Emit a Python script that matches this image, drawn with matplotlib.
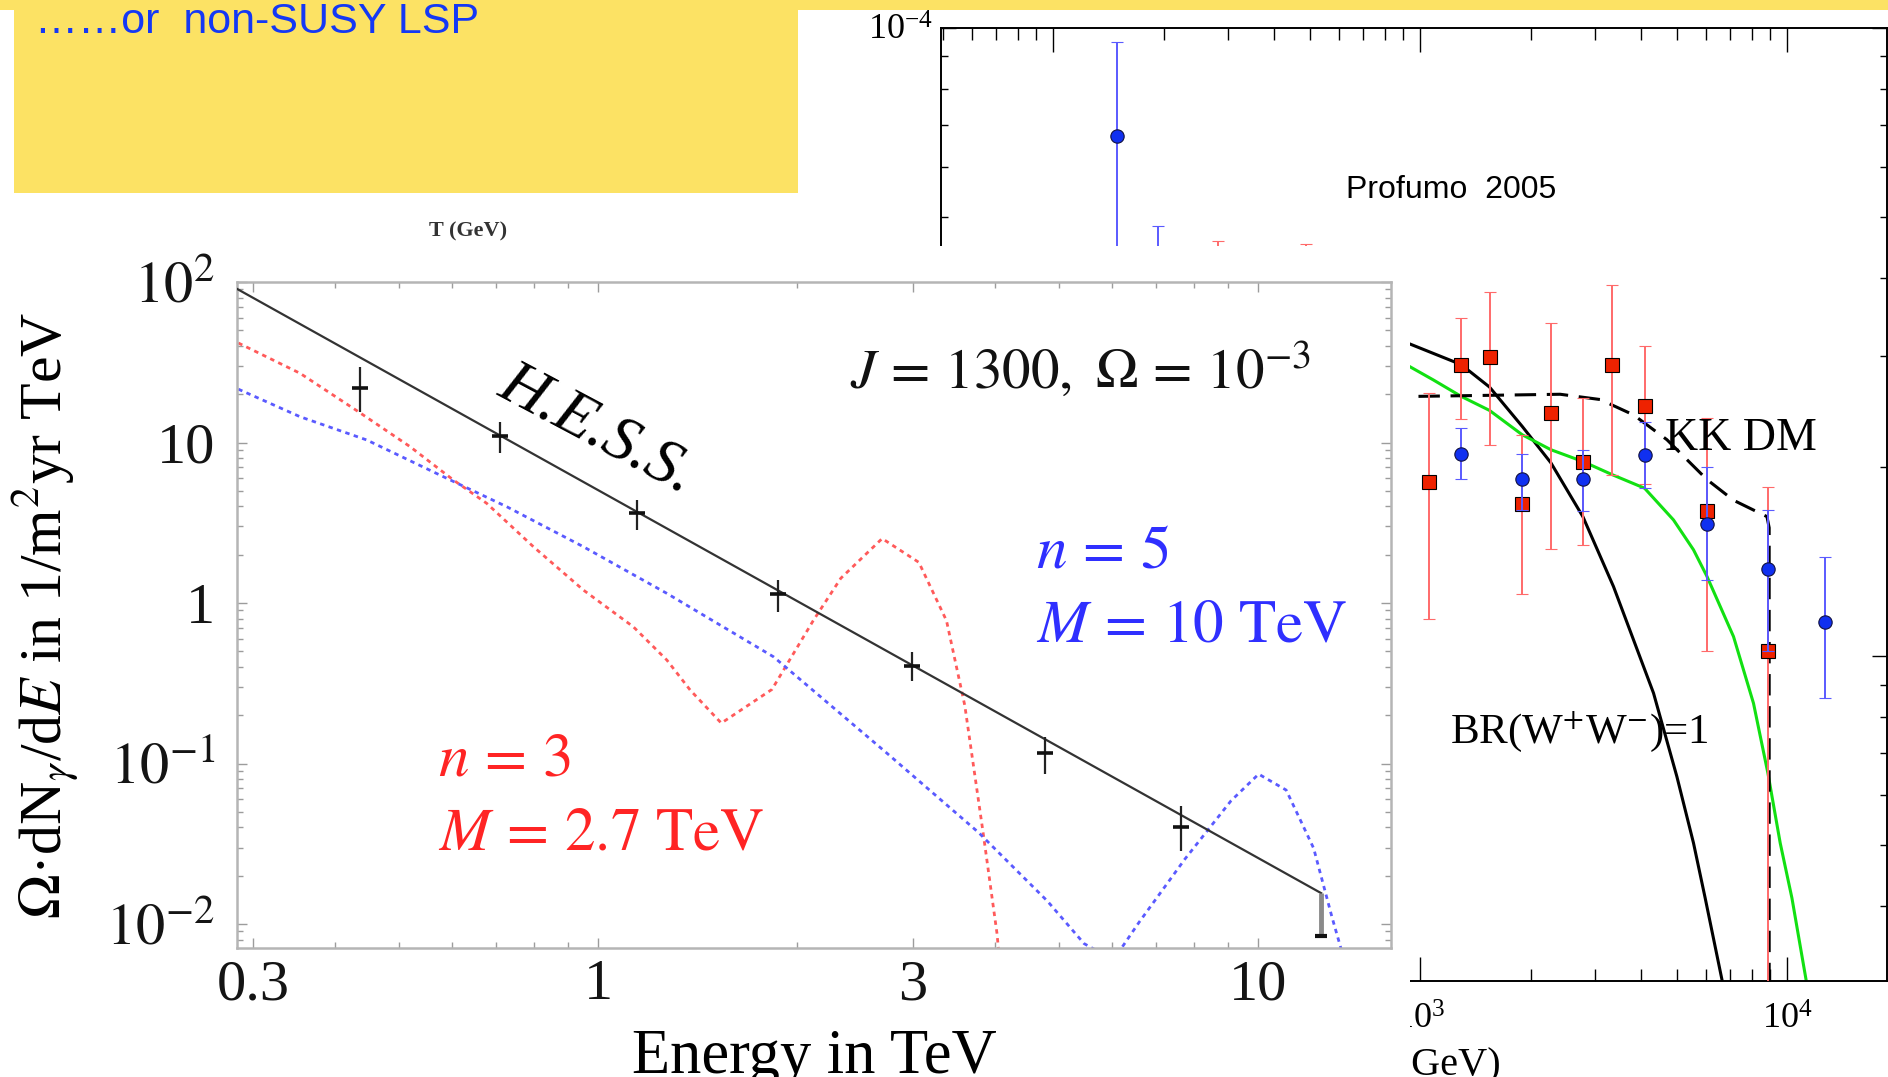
"""Slide collage: H.E.S.S. gamma-ray spectrum laid over the Profumo 2005 KK dark-matter panel."""
import matplotlib

matplotlib.use("Agg")

import matplotlib.pyplot as plt  # noqa: E402
from matplotlib.patches import Rectangle  # noqa: E402
from matplotlib.ticker import (  # noqa: E402
    FixedFormatter,
    FixedLocator,
    LogLocator,
    NullFormatter,
)

W, H = 1888, 1077
YELLOW = "#fce264"

# ---- H.E.S.S. panel (energy in TeV, flux in 1/m^2 yr TeV) ----
HESS_FIT_E = [0.284, 12.46]
HESS_FIT_F = [90.4, 0.0156]

HESS_E = [0.435, 0.710, 1.144, 1.876, 2.99, 4.76, 7.63]
HESS_F = [21.8, 10.98, 3.65, 1.138, 0.407, 0.1164, 0.0402]
HESS_F_LO = [15.6, 8.56, 2.85, 0.882, 0.325, 0.0861, 0.0285]
HESS_F_HI = [29.7, 13.5, 4.38, 1.39, 0.493, 0.146, 0.0543]

HESS_LAST_E = [12.45]
HESS_LAST_F = [0.00848]
HESS_LAST_HI = [0.0156]

# n = 3, M = 2.7 TeV
N3_E = [0.285, 0.3535, 0.4333, 0.519, 0.6036, 0.678, 0.798, 0.950, 1.131, 1.271,
        1.379, 1.537, 1.834, 2.118, 2.332, 2.694, 3.062, 3.372, 3.594, 3.831,
        4.021, 4.065]
N3_F = [41.7, 27.0, 15.56, 9.42, 5.84, 4.18, 2.243, 1.205, 0.711, 0.4416,
        0.287, 0.1787, 0.2897, 0.7768, 1.427, 2.523, 1.793, 0.7768, 0.2305, 0.03726,
        0.00879, 0.0055]

# n = 5, M = 10 TeV
N5_E = [0.285, 0.3535, 0.4462, 0.5831, 0.7273, 0.950, 1.271, 1.844, 2.737, 3.77,
        4.796, 5.45, 5.865, 6.196, 6.6, 7.75, 9.10, 10.02, 11.03, 12.14,
        12.94, 13.36, 13.5]
N5_F = [21.5, 14.48, 10.37, 6.12, 3.98, 2.243, 1.149, 0.4628, 0.1164, 0.03726,
        0.0139, 0.00756, 0.0064, 0.0070, 0.01025, 0.02548, 0.0587, 0.086, 0.0684, 0.02967,
        0.01107, 0.0070, 0.006]

HESS_XTICKS = [0.3, 1, 3, 10]
HESS_XTICKLABELS = ["0.3", "1", "3", "10"]
HESS_YTICKS = [0.01, 0.1, 1, 10, 100]
HESS_YTICKLABELS = [r"$10^{-2}$", r"$10^{-1}$", "1", "10", r"$10^{2}$"]

# ---- Profumo 2005 panel (GeV, flux) ----
RED_E = [281.6, 489, 1058, 1293, 1545, 1897, 2271, 2775, 3342, 4085, 6040, 8855]
RED_F = [3.2e-5, 3.2e-5, 1.89e-5, 2.91e-5, 2.99e-5, 1.746e-5, 2.434e-5, 2.04e-5,
         2.91e-5, 2.50e-5, 1.70e-5, 1.02e-5]
RED_HI = [4.58e-5, 4.53e-5, 2.62e-5, 3.45e-5, 3.80e-5, 2.25e-5, 3.39e-5, 2.57e-5,
          3.90e-5, 3.11e-5, 2.39e-5, 1.86e-5]
RED_LO = [2.2e-5, 2.2e-5, 1.146e-5, 2.38e-5, 2.17e-5, 1.256e-5, 1.479e-5, 1.50e-5,
          1.94e-5, 1.88e-5, 1.02e-5, 1.0e-6]

BLUE_E = [149.4, 193, 1293, 1897, 2775, 4085, 6040, 8855, 12690]
BLUE_F = [6.72e-5, 3.2e-5, 2.10e-5, 1.91e-5, 1.91e-5, 2.09e-5, 1.62e-5, 1.375e-5, 1.135e-5]
BLUE_HI = [9.50e-5, 4.84e-5, 2.31e-5, 2.10e-5, 2.13e-5, 2.36e-5, 2.00e-5, 1.71e-5, 1.437e-5]
BLUE_LO = [3.5e-5, 2.2e-5, 1.91e-5, 1.71e-5, 1.70e-5, 1.85e-5, 1.32e-5, 1.02e-5, 8.57e-6]

WW_E = [935, 1293, 1545, 1897, 2271, 2775, 3363, 4323, 5005, 5555, 5977, 6652, 6800]
WW_F = [3.14e-5, 2.91e-5, 2.68e-5, 2.32e-5, 2.03e-5, 1.667e-5, 1.29e-5, 8.73e-6,
        6.43e-6, 5.04e-6, 4.12e-6, 3.04e-6, 2.8e-6]

GREEN_E = [935, 1087, 1293, 1545, 1897, 2271, 2775, 3363, 4086, 4899, 5555, 6041,
           7140, 8094, 8859, 9570, 10300, 11270]
GREEN_F = [2.89e-5, 2.75e-5, 2.59e-5, 2.46e-5, 2.25e-5, 2.13e-5, 2.04e-5, 1.94e-5,
           1.85e-5, 1.647e-5, 1.476e-5, 1.34e-5, 1.074e-5, 8.41e-6, 6.51e-6, 5.04e-6,
           4.12e-6, 3.04e-6]

KK_E = [989.5, 1551, 2407, 3094, 3813, 4700, 6041, 7140, 8805, 8930, 8930]
KK_F = [2.59e-5, 2.60e-5, 2.61e-5, 2.56e-5, 2.42e-5, 2.21e-5, 1.91e-5, 1.77e-5,
        1.667e-5, 1.6e-5, 2.0e-6]


def box(left, top, right, bottom):
    """Pixel box of the 1888x1077 slide -> add_axes rectangle."""
    return [left / W, 1 - bottom / H, (right - left) / W, (bottom - top) / H]


def fx(px):
    return px / W


def fy(py):
    return 1 - py / H


plt.rcParams["font.family"] = ["Liberation Serif", "DejaVu Serif"]
plt.rcParams["mathtext.fontset"] = "stix"

fig = plt.figure(figsize=(W / 100, H / 100), dpi=100)

# yellow title band and box
fig.add_artist(Rectangle((0, fy(10)), 1, 10 / H, transform=fig.transFigure,
                         facecolor=YELLOW, edgecolor="none", zorder=0))
fig.add_artist(Rectangle((fx(14), fy(193)), (798 - 14) / W, 193 / H, transform=fig.transFigure,
                         facecolor=YELLOW, edgecolor="none", zorder=0))
fig.text(fx(35), fy(33), "\u2026\u2026or  non-SUSY LSP", family="Liberation Sans",
         fontsize=31, color="#1438f5", va="baseline", zorder=5)

# ---- background panel: Profumo 2005 ----
ax_p = fig.add_axes(box(941, 27.7, 1887, 981), zorder=1)
ax_p.set_facecolor("none")
ax_p.set_xscale("log")
ax_p.set_yscale("log")
ax_p.set_xlim(49.5, 18700)
ax_p.set_ylim(3.04e-6, 1e-4)

ax_p.errorbar(RED_E, RED_F,
              yerr=[[f - lo for f, lo in zip(RED_F, RED_LO)],
                    [hi - f for f, hi in zip(RED_F, RED_HI)]],
              fmt="s", ms=9.4, mfc="#ee2200", mec="black", mew=0.8,
              ecolor="#ff6a6a", elinewidth=1.4, capsize=4, capthick=1.4, zorder=3)
ax_p.errorbar(BLUE_E, BLUE_F,
              yerr=[[f - lo for f, lo in zip(BLUE_F, BLUE_LO)],
                    [hi - f for f, hi in zip(BLUE_F, BLUE_HI)]],
              fmt="o", ms=9.6, mfc="#1030f0", mec="#101040", mew=0.8,
              ecolor="#5a5aff", elinewidth=1.4, capsize=4, capthick=1.4, zorder=4)
ax_p.plot(WW_E, WW_F, color="black", lw=2.2, zorder=2)
ax_p.plot(GREEN_E, GREEN_F, color="#12e012", lw=2.2, zorder=2)
ax_p.plot(KK_E, KK_F, color="black", lw=2.2, dashes=(7, 3.5), zorder=2)

ax_p.xaxis.set_minor_formatter(NullFormatter())
ax_p.yaxis.set_minor_formatter(NullFormatter())
for side in ax_p.spines.values():
    side.set_linewidth(1.4)
ax_p.tick_params(which="both", direction="in", top=True, right=True, width=1.0, labelsize=26)
ax_p.tick_params(axis="x", which="major", length=17, pad=16)
ax_p.tick_params(axis="x", which="minor", length=8.5)
ax_p.tick_params(axis="y", which="major", length=11, pad=6)
ax_p.tick_params(axis="y", which="minor", length=5)
ax_p.set_xlabel("E (GeV)", fontsize=29)
ax_p.xaxis.set_label_coords(0.5185, -0.07)

fig.text(fx(1346), fy(190), "Profumo  2005", family="Liberation Sans", fontsize=23,
         va="center", zorder=1.5)
fig.text(fx(468), fy(231), "T (GeV)", fontsize=16, fontweight="bold", ha="center",
         va="center", color="#333333", zorder=1.5)
fig.text(fx(1665), fy(450), "KK DM", fontsize=33, va="baseline", zorder=1.5)
fig.text(fx(1450), fy(743), r"BR(W$^{+}$W$^{-}$)=1", fontsize=31, va="baseline", zorder=1.5)

# white sheet of the pasted H.E.S.S. figure
fig.add_artist(Rectangle((0, 0), 1410 / W, fy(246), transform=fig.transFigure,
                         facecolor="white", edgecolor="none", zorder=2))

# ---- foreground panel: H.E.S.S. ----
ax = fig.add_axes(box(237.3, 282, 1391, 948), zorder=3)
ax.set_xscale("log")
ax.set_yscale("log")
ax.set_xlim(0.284, 15.9)
ax.set_ylim(0.0071, 100)

ax.plot(HESS_FIT_E, HESS_FIT_F, color="#333333", lw=1.6, zorder=3)
ax.plot(N3_E, N3_F, color="#ff5a5a", lw=2.0, dashes=(1.6, 1.6), zorder=2)
ax.plot(N5_E, N5_F, color="#5a5aff", lw=2.0, dashes=(1.6, 1.6), zorder=2)
ax.errorbar(HESS_E, HESS_F,
            yerr=[[f - lo for f, lo in zip(HESS_F, HESS_F_LO)],
                  [hi - f for f, hi in zip(HESS_F, HESS_F_HI)]],
            fmt="_", ms=11, mew=2.6, color="#111111", ecolor="#222222",
            elinewidth=1.6, capsize=0, zorder=4)
ax.errorbar(HESS_LAST_E, HESS_LAST_F,
            yerr=[[0], [hi - f for f, hi in zip(HESS_LAST_F, HESS_LAST_HI)]],
            fmt="_", ms=9, mew=3, color="#111111", ecolor="#8a8a8a",
            elinewidth=3.5, capsize=0, zorder=4)

ax.xaxis.set_major_locator(FixedLocator(HESS_XTICKS))
ax.xaxis.set_major_formatter(FixedFormatter(HESS_XTICKLABELS))
ax.xaxis.set_minor_locator(LogLocator(base=10, subs=range(2, 10)))
ax.xaxis.set_minor_formatter(NullFormatter())
ax.yaxis.set_major_locator(FixedLocator(HESS_YTICKS))
ax.yaxis.set_major_formatter(FixedFormatter(HESS_YTICKLABELS))
ax.yaxis.set_minor_locator(LogLocator(base=10, subs=range(2, 10)))
ax.yaxis.set_minor_formatter(NullFormatter())
for side in ax.spines.values():
    side.set_color("#b5b5b5")
    side.set_linewidth(1.8)
ax.tick_params(which="both", direction="in", top=True, right=True,
               color="#9c9c9c", labelcolor="#141414", width=1.0, labelsize=42)
ax.tick_params(which="major", length=7)
ax.tick_params(which="minor", length=4)
ax.tick_params(axis="x", pad=8)
ax.tick_params(axis="y", pad=16)

ax.set_xlabel("Energy in TeV", fontsize=45)
ax.xaxis.set_label_coords(0.5, -0.122)
ax.set_ylabel("$\\Omega$\u00b7dN$_{\\gamma}$/d$E$ in 1/m$^{2}$yr TeV", fontsize=43)
ax.yaxis.set_label_coords(-0.136, 0.5)

fig.text(fx(597), fy(430), "H.E.S.S.", fontsize=46, style="italic", rotation=-28,
         ha="center", va="center", rotation_mode="anchor", zorder=5)
fig.text(fx(850), fy(388), r"$J\,=\,1300,\ \Omega\,=\,10^{-3}$", fontsize=41,
         va="baseline", color="#111111", zorder=5)
fig.text(fx(1036), fy(568), r"$n\,=\,5$", fontsize=44, va="baseline", color="#2f2fff", zorder=5)
fig.text(fx(1036), fy(642), r"$M\,=\,10\ \mathrm{TeV}$", fontsize=44, va="baseline",
         color="#2f2fff", zorder=5)
fig.text(fx(438), fy(776), r"$n\,=\,3$", fontsize=44, va="baseline", color="#ff2424", zorder=5)
fig.text(fx(438), fy(850), r"$M\,=\,2.7\ \mathrm{TeV}$", fontsize=44, va="baseline",
         color="#ff2424", zorder=5)

fig.savefig("out.png", dpi=100)
